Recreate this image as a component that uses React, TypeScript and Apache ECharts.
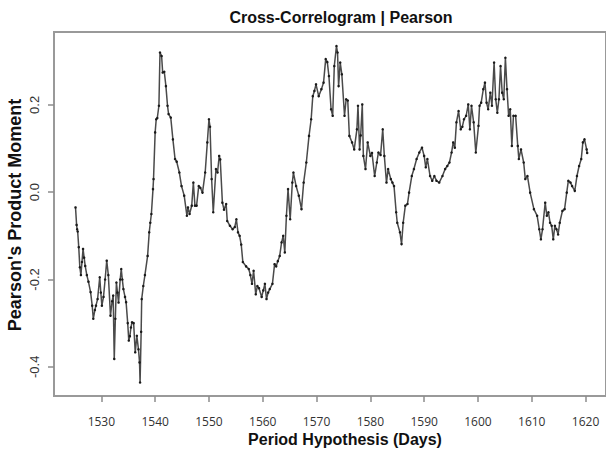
import React, { useEffect, useRef } from "react";
import * as echarts from "echarts";

const days: number[] = [
  1525.2, 1525.4, 1525.5, 1525.6, 1525.8, 1526.0, 1526.2, 1526.4, 1526.6, 1526.8,
  1527.0, 1527.3, 1527.6, 1528.0, 1528.3, 1528.5, 1528.8, 1529.0, 1529.3, 1529.7,
  1529.9, 1530.1, 1530.4, 1530.7, 1531.0, 1531.3, 1531.7, 1532.0, 1532.2, 1532.4,
  1532.6, 1532.8, 1533.0, 1533.2, 1533.5, 1533.7, 1533.9, 1534.1, 1534.4, 1534.6,
  1534.9, 1535.1, 1535.3, 1535.5, 1535.7, 1536.0, 1536.3, 1536.6, 1536.9, 1537.1,
  1537.2, 1537.4, 1537.5, 1537.8, 1538.1, 1538.6, 1538.9, 1539.1, 1539.3, 1539.6,
  1539.7, 1540.0, 1540.2, 1540.4, 1540.7, 1540.9, 1541.2, 1541.4, 1541.7, 1542.0,
  1542.3, 1542.5, 1542.9, 1543.3, 1543.7, 1544.0, 1544.5, 1544.9, 1545.4, 1545.9,
  1546.1, 1546.4, 1546.8, 1547.1, 1547.4, 1547.7, 1548.1, 1548.4, 1548.8, 1549.3,
  1549.7, 1550.0, 1550.2, 1550.5, 1550.8, 1551.3, 1551.6, 1551.9, 1552.1, 1552.5,
  1552.8, 1553.2, 1553.4, 1553.9, 1554.4, 1554.8, 1555.1, 1555.4, 1555.7, 1556.0,
  1556.3, 1556.9, 1557.4, 1557.7, 1558.0, 1558.3, 1558.7, 1559.0, 1559.3, 1559.8,
  1560.1, 1560.4, 1560.7, 1561.0, 1561.3, 1561.8, 1562.2, 1562.5, 1562.8, 1563.15,
  1563.5, 1563.8, 1564.1, 1564.4, 1564.7, 1565.1, 1565.5, 1565.7, 1566.2, 1566.7,
  1567.2, 1567.6, 1568.1, 1568.6, 1569.0, 1569.3, 1569.6, 1569.9, 1570.4, 1570.9,
  1571.3, 1571.7, 1572.0, 1572.3, 1572.7, 1573.0, 1573.3, 1573.7, 1573.9, 1574.1,
  1574.4, 1574.7, 1575.2, 1575.5, 1575.8, 1576.1, 1576.6, 1577.0, 1577.5, 1577.7,
  1578.0, 1578.2, 1578.5, 1578.7, 1579.1, 1579.5, 1580.0, 1580.3, 1580.8, 1581.2,
  1581.5, 1581.9, 1582.3, 1582.6, 1583.0, 1583.3, 1583.8, 1584.1, 1584.4, 1584.8,
  1585.0, 1585.5, 1585.8, 1586.1, 1586.5, 1586.9, 1587.2, 1587.7, 1588.1, 1588.6,
  1589.1, 1589.6, 1590.0, 1590.3, 1590.6, 1591.1, 1591.5, 1591.9, 1592.3, 1592.8,
  1593.4, 1593.9, 1594.3, 1594.7, 1595.1, 1595.4, 1595.7, 1596.0, 1596.4, 1596.8,
  1597.1, 1597.4, 1597.8, 1598.2, 1598.5, 1598.8, 1599.2, 1599.6, 1600.1, 1600.3,
  1600.6, 1601.0, 1601.3, 1601.6, 1601.9, 1602.3, 1602.6, 1603.0, 1603.3, 1603.6,
  1603.9, 1604.2, 1604.5, 1604.8, 1605.1, 1605.4, 1605.7, 1606.0, 1606.3, 1606.6,
  1607.0, 1607.4, 1607.6, 1608.0, 1608.5, 1608.8, 1609.2, 1609.7, 1610.4, 1611.0,
  1611.4, 1611.7, 1612.0, 1612.5, 1612.8, 1613.1, 1613.4, 1613.7, 1614.0, 1614.3,
  1614.6, 1614.9, 1615.2, 1615.7, 1616.1, 1616.5, 1616.8, 1617.2, 1617.5, 1618.0,
  1618.4, 1618.8, 1619.2, 1619.5, 1619.8, 1620.2, 1620.3,
];

const pearson: number[] = [
  -0.035, -0.075, -0.085, -0.09, -0.126, -0.172, -0.19, -0.16, -0.13, -0.15,
  -0.169, -0.19, -0.205, -0.229, -0.26, -0.29, -0.27, -0.26, -0.245, -0.195,
  -0.23, -0.26, -0.24, -0.2, -0.157, -0.19, -0.283, -0.25, -0.237, -0.382,
  -0.29, -0.207, -0.23, -0.253, -0.2, -0.176, -0.2, -0.222, -0.24, -0.252,
  -0.3, -0.34, -0.33, -0.31, -0.298, -0.3, -0.367, -0.329, -0.36, -0.39,
  -0.436, -0.32, -0.245, -0.215, -0.19, -0.146, -0.092, -0.07, -0.05, 0.007,
  0.03, 0.137, 0.167, 0.17, 0.198, 0.32, 0.312, 0.274, 0.276, 0.243,
  0.198, 0.179, 0.171, 0.121, 0.076, 0.07, 0.045, 0.014, -0.008, -0.054,
  -0.035, -0.05, -0.031, 0.022, -0.031, -0.031, 0.014, 0.01, -0.001, 0.045,
  0.114, 0.167, 0.15, 0.03, -0.046, 0.053, 0.045, 0.083, 0.075, -0.024,
  -0.04, -0.027, -0.066, -0.077, -0.085, -0.08, -0.062, -0.092, -0.1, -0.12,
  -0.16, -0.17, -0.176, -0.19, -0.21, -0.18, -0.234, -0.215, -0.22, -0.24,
  -0.225, -0.21, -0.245, -0.23, -0.222, -0.21, -0.165, -0.17, -0.158, -0.146,
  -0.115, -0.1, -0.138, -0.054, 0.007, -0.062, 0.022, 0.045, 0.014, -0.008,
  -0.039, 0.022, 0.068, 0.129, 0.167, 0.22, 0.232, 0.247, 0.22, 0.236,
  0.251, 0.305, 0.298, 0.266, 0.19, 0.175, 0.289, 0.335, 0.32, 0.243,
  0.297, 0.27, 0.175, 0.213, 0.21, 0.129, 0.114, 0.098, 0.144, 0.198,
  0.098, 0.13, 0.201, 0.083, 0.053, 0.114, 0.083, 0.09, 0.037, 0.068,
  0.091, 0.085, 0.144, 0.083, 0.022, 0.053, 0.03, 0.022, 0.014, -0.046,
  -0.07, -0.092, -0.119, -0.07, -0.031, -0.027, -0.001, 0.037, 0.053, 0.076,
  0.091, 0.102, 0.083, 0.057, 0.076, 0.037, 0.026, 0.037, 0.026, 0.022,
  0.037, 0.053, 0.06, 0.068, 0.091, 0.114, 0.102, 0.16, 0.186, 0.144,
  0.15, 0.167, 0.175, 0.201, 0.144, 0.198, 0.16, 0.091, 0.152, 0.198,
  0.205, 0.236, 0.251, 0.205, 0.19, 0.228, 0.198, 0.297, 0.213, 0.182,
  0.213, 0.289, 0.228, 0.213, 0.308, 0.236, 0.175, 0.19, 0.106, 0.175,
  0.175, 0.106, 0.076, 0.098, 0.068, 0.03, 0.037, -0.001, -0.039, -0.054,
  -0.085, -0.108, -0.085, -0.024, -0.054, -0.046, -0.07, -0.077, -0.108, -0.077,
  -0.085, -0.097, -0.07, -0.043, -0.039, -0.001, 0.026, 0.022, 0.014, 0.003,
  0.037, 0.06, 0.076, 0.114, 0.121, 0.098, 0.09,
];

const xTicks: number[] = [1530, 1540, 1550, 1560, 1570, 1580, 1590, 1600, 1610, 1620];
const yTicks: number[] = [-0.4, -0.2, 0, 0.2];

const titleText = "Cross-Correlogram | Pearson";
const xTitle = "Period Hypothesis (Days)";
const yTitle = "Pearson's Product Moment";

export default function App() {
  const ref = useRef<HTMLDivElement>(null);
  useEffect(() => {
    if (!ref.current) return;
    const chart = echarts.init(ref.current, null, { renderer: "svg" });
    const points = days.map((d, i) => [d, pearson[i]]);
    const axisGray = "#8c8c8c";
    chart.setOption({
      animation: false,
      backgroundColor: "#ffffff",
      grid: {
        left: 54,
        right: -2,
        top: 32,
        bottom: 55,
        show: true,
        borderColor: "#999999",
        borderWidth: 2,
        backgroundColor: "transparent",
      },
      xAxis: {
        type: "value",
        min: 1521.2,
        max: 1623.8,
        axisLine: { show: false, onZero: false },
        splitLine: { show: false },
        axisTick: {
          show: true,
          customValues: xTicks,
          length: 6,
          lineStyle: { color: axisGray, width: 1.5 },
        },
        axisLabel: {
          customValues: xTicks,
          margin: 19,
          fontFamily: "Open Sans",
          fontSize: 12,
          color: "#333333",
          formatter: (v: number) => String(v),
        },
      },
      yAxis: {
        type: "value",
        min: -0.467,
        max: 0.367,
        axisLine: { show: false, onZero: false },
        splitLine: { show: false },
        axisTick: {
          show: true,
          customValues: yTicks,
          length: 6,
          lineStyle: { color: axisGray, width: 1.5 },
        },
        axisLabel: {
          customValues: yTicks,
          rotate: 90,
          margin: 13,
          fontFamily: "Liberation Sans",
          fontSize: 13,
          color: "#333333",
          formatter: (v: number) => v.toFixed(1),
        },
      },
      series: [
        {
          type: "line",
          data: points,
          showSymbol: true,
          symbol: "circle",
          symbolSize: 2.5,
          itemStyle: { color: "#1a1a1a" },
          lineStyle: { color: "#4a4a4a", width: 1.5 },
          clip: false,
        },
      ],
      graphic: [
        {
          type: "text",
          x: 341,
          y: 17,
          style: {
            text: titleText,
            font: "bold 16px 'Liberation Sans'",
            fill: "#111111",
            align: "center",
            verticalAlign: "middle",
          },
        },
        {
          type: "text",
          x: 345,
          y: 439,
          style: {
            text: xTitle,
            font: "bold 16px 'Liberation Sans'",
            fill: "#111111",
            align: "center",
            verticalAlign: "middle",
          },
        },
        {
          type: "text",
          x: 15,
          y: 215,
          rotation: Math.PI / 2,
          style: {
            text: yTitle,
            font: "bold 18px 'Liberation Sans'",
            fill: "#111111",
            align: "center",
            verticalAlign: "middle",
          },
        },
      ],
    });
    return () => chart.dispose();
  }, []);
  return (
    <div
      ref={ref}
      style={{ position: "fixed", left: 0, top: 0, width: 606, height: 451 }}
    />
  );
}
